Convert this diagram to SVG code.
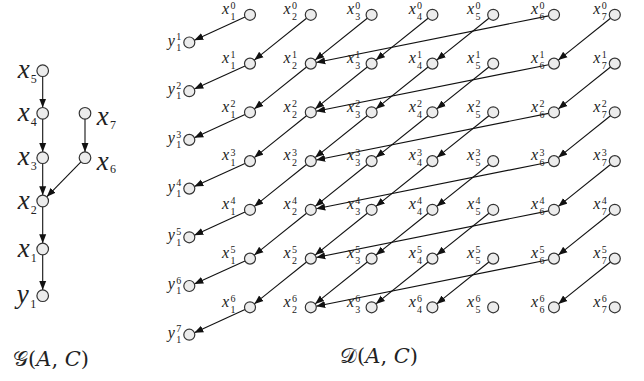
<svg xmlns="http://www.w3.org/2000/svg" width="644" height="381" viewBox="0 0 644 381">
<style>
.n circle{fill:#ececec;stroke:#333;stroke-width:1.2}
.v{font-family:"Liberation Serif",serif;font-style:italic;font-size:16px;fill:#222}
.d{font-style:normal;font-size:10px}
.L{font-family:"Liberation Serif",serif;font-style:italic;font-size:27px;fill:#222}
.Ld{font-style:normal;font-size:12px}
.e path{fill:none;stroke:#111;stroke-width:1.1;marker-end:url(#ah)}
.t{font-family:"DejaVu Serif",serif;font-size:21px;fill:#222}
.t tspan{font-style:italic}
</style>
<defs>
<marker id="ah" markerUnits="userSpaceOnUse" markerWidth="10" markerHeight="8" refX="9" refY="4" orient="auto"><path d="M0,0.5 L9,4 L0,7.5 z" fill="#111"/></marker>
</defs>
<rect width="644" height="381" fill="#fff"/>
<g class="e" id="connectors">
<path d="M42.7 76.5V107.5"/>
<path d="M42.7 119.1V151.9"/>
<path d="M42.7 163.5V195.2"/>
<path d="M42.7 206.8V243.2"/>
<path d="M42.7 254.8V289.9"/>
<path d="M85 119.1V151.9"/>
<path d="M80.95 161.85L46.75 196.85"/>
<path d="M250 14.8m-5 2.28l-50.7 23.1"/>
<path d="M310.8 14.8m-4.29 3.44l-52.22 41.87"/>
<path d="M371.6 14.8m-4.29 3.44l-52.22 41.87"/>
<path d="M432.4 14.8m-4.29 3.44l-52.22 41.87"/>
<path d="M493.2 14.8m-4.29 3.44l-52.22 41.87"/>
<path d="M554 14.8m-5.39 1.08l-232.4 46.6"/>
<path d="M614.8 14.8m-4.29 3.44l-52.22 41.87"/>
<path d="M250 63.6m-5 2.28l-50.7 23.1"/>
<path d="M310.8 63.6m-4.29 3.44l-52.22 41.87"/>
<path d="M371.6 63.6m-4.29 3.44l-52.22 41.87"/>
<path d="M432.4 63.6m-4.29 3.44l-52.22 41.87"/>
<path d="M493.2 63.6m-4.29 3.44l-52.22 41.87"/>
<path d="M554 63.6m-5.39 1.08l-232.4 46.6"/>
<path d="M614.8 63.6m-4.29 3.44l-52.22 41.87"/>
<path d="M250 112.3m-5 2.28l-50.7 23.1"/>
<path d="M310.8 112.3m-4.29 3.44l-52.22 41.87"/>
<path d="M371.6 112.3m-4.29 3.44l-52.22 41.87"/>
<path d="M432.4 112.3m-4.29 3.44l-52.22 41.87"/>
<path d="M493.2 112.3m-4.29 3.44l-52.22 41.87"/>
<path d="M554 112.3m-5.39 1.08l-232.4 46.6"/>
<path d="M614.8 112.3m-4.29 3.44l-52.22 41.87"/>
<path d="M250 161.1m-5 2.28l-50.7 23.1"/>
<path d="M310.8 161.1m-4.29 3.44l-52.22 41.87"/>
<path d="M371.6 161.1m-4.29 3.44l-52.22 41.87"/>
<path d="M432.4 161.1m-4.29 3.44l-52.22 41.87"/>
<path d="M493.2 161.1m-4.29 3.44l-52.22 41.87"/>
<path d="M554 161.1m-5.39 1.08l-232.4 46.6"/>
<path d="M614.8 161.1m-4.29 3.44l-52.22 41.87"/>
<path d="M250 209.8m-5 2.28l-50.7 23.1"/>
<path d="M310.8 209.8m-4.29 3.44l-52.22 41.87"/>
<path d="M371.6 209.8m-4.29 3.44l-52.22 41.87"/>
<path d="M432.4 209.8m-4.29 3.44l-52.22 41.87"/>
<path d="M493.2 209.8m-4.29 3.44l-52.22 41.87"/>
<path d="M554 209.8m-5.39 1.08l-232.4 46.6"/>
<path d="M614.8 209.8m-4.29 3.44l-52.22 41.87"/>
<path d="M250 258.6m-5 2.28l-50.7 23.1"/>
<path d="M310.8 258.6m-4.29 3.44l-52.22 41.87"/>
<path d="M371.6 258.6m-4.29 3.44l-52.22 41.87"/>
<path d="M432.4 258.6m-4.29 3.44l-52.22 41.87"/>
<path d="M493.2 258.6m-4.29 3.44l-52.22 41.87"/>
<path d="M554 258.6m-5.39 1.08l-232.4 46.6"/>
<path d="M614.8 258.6m-4.29 3.44l-52.22 41.87"/>
<path d="M250 307.3m-5 2.28l-50.7 23.1"/>
</g>
<g id="G-nodes">
<g id="g_x5" class="n" transform="translate(42.7,70.7)"><circle r="5.8"/><text class="L" x="-25" y="7.6">x<tspan class="Ld" x="-12" y="12.6">5</tspan></text></g>
<g id="g_x4" class="n" transform="translate(42.7,113.3)"><circle r="5.8"/><text class="L" x="-25" y="7.6">x<tspan class="Ld" x="-12" y="12.6">4</tspan></text></g>
<g id="g_x3" class="n" transform="translate(42.7,157.7)"><circle r="5.8"/><text class="L" x="-25" y="7.6">x<tspan class="Ld" x="-12" y="12.6">3</tspan></text></g>
<g id="g_x2" class="n" transform="translate(42.7,201)"><circle r="5.8"/><text class="L" x="-25" y="7.6">x<tspan class="Ld" x="-12" y="12.6">2</tspan></text></g>
<g id="g_x1" class="n" transform="translate(42.7,249)"><circle r="5.8"/><text class="L" x="-25" y="7.6">x<tspan class="Ld" x="-12" y="12.6">1</tspan></text></g>
<g id="g_y1" class="n" transform="translate(42.7,295.7)"><circle r="5.8"/><text class="L" x="-26" y="7">y<tspan class="Ld" x="-12.5" y="12">1</tspan></text></g>
<g id="g_x7" class="n" transform="translate(85,113.3)"><circle r="5.8"/><text class="L" x="11.7" y="12">x<tspan class="Ld" x="25" y="15.5">7</tspan></text></g>
<g id="g_x6" class="n" transform="translate(85,157.7)"><circle r="5.8"/><text class="L" x="11.7" y="12">x<tspan class="Ld" x="25" y="15.5">6</tspan></text></g>
</g>
<g id="D-y-nodes">
<g id="y1_1" class="n" transform="translate(189.3,42.5)"><circle r="5.5"/><text class="v" x="-21.6" y="3">y<tspan class="d" x="-13" y="-2.4">1</tspan><tspan class="d" x="-13" y="8.2">1</tspan></text></g>
<g id="y1_2" class="n" transform="translate(189.3,91.2)"><circle r="5.5"/><text class="v" x="-21.6" y="3">y<tspan class="d" x="-13" y="-2.4">2</tspan><tspan class="d" x="-13" y="8.2">1</tspan></text></g>
<g id="y1_3" class="n" transform="translate(189.3,139.9)"><circle r="5.5"/><text class="v" x="-21.6" y="3">y<tspan class="d" x="-13" y="-2.4">3</tspan><tspan class="d" x="-13" y="8.2">1</tspan></text></g>
<g id="y1_4" class="n" transform="translate(189.3,188.6)"><circle r="5.5"/><text class="v" x="-21.6" y="3">y<tspan class="d" x="-13" y="-2.4">4</tspan><tspan class="d" x="-13" y="8.2">1</tspan></text></g>
<g id="y1_5" class="n" transform="translate(189.3,237.3)"><circle r="5.5"/><text class="v" x="-21.6" y="3">y<tspan class="d" x="-13" y="-2.4">5</tspan><tspan class="d" x="-13" y="8.2">1</tspan></text></g>
<g id="y1_6" class="n" transform="translate(189.3,286)"><circle r="5.5"/><text class="v" x="-21.6" y="3">y<tspan class="d" x="-13" y="-2.4">6</tspan><tspan class="d" x="-13" y="8.2">1</tspan></text></g>
<g id="y1_7" class="n" transform="translate(189.3,334.7)"><circle r="5.5"/><text class="v" x="-21.6" y="3">y<tspan class="d" x="-13" y="-2.4">7</tspan><tspan class="d" x="-13" y="8.2">1</tspan></text></g>
</g>
<g id="D-x-nodes">
<g id="x1_0" class="n" transform="translate(250,14.8)"><circle r="5.5"/><text class="v" x="-28" y="-0.8">x<tspan class="d" x="-19.6" y="-5.5">0</tspan><tspan class="d" x="-19.6" y="5.2">1</tspan></text></g>
<g id="x2_0" class="n" transform="translate(310.8,14.8)"><circle r="5.5"/><text class="v" x="-27.2" y="-0.8">x<tspan class="d" x="-18.8" y="-5.5">0</tspan><tspan class="d" x="-18.8" y="5.2">2</tspan></text></g>
<g id="x3_0" class="n" transform="translate(371.6,14.8)"><circle r="5.5"/><text class="v" x="-24.7" y="-0.8">x<tspan class="d" x="-16.3" y="-5.5">0</tspan><tspan class="d" x="-16.3" y="5.2">3</tspan></text></g>
<g id="x4_0" class="n" transform="translate(432.4,14.8)"><circle r="5.5"/><text class="v" x="-23.7" y="-0.8">x<tspan class="d" x="-15.3" y="-5.5">0</tspan><tspan class="d" x="-15.3" y="5.2">4</tspan></text></g>
<g id="x5_0" class="n" transform="translate(493.2,14.8)"><circle r="5.5"/><text class="v" x="-26.2" y="-0.8">x<tspan class="d" x="-17.8" y="-5.5">0</tspan><tspan class="d" x="-17.8" y="5.2">5</tspan></text></g>
<g id="x6_0" class="n" transform="translate(554,14.8)"><circle r="5.5"/><text class="v" x="-23" y="-0.8">x<tspan class="d" x="-14.6" y="-5.5">0</tspan><tspan class="d" x="-14.6" y="5.2">6</tspan></text></g>
<g id="x7_0" class="n" transform="translate(614.8,14.8)"><circle r="5.5"/><text class="v" x="-21.5" y="-0.8">x<tspan class="d" x="-13.1" y="-5.5">0</tspan><tspan class="d" x="-13.1" y="5.2">7</tspan></text></g>
<g id="x1_1" class="n" transform="translate(250,63.6)"><circle r="5.5"/><text class="v" x="-28" y="-0.8">x<tspan class="d" x="-19.6" y="-5.5">1</tspan><tspan class="d" x="-19.6" y="5.2">1</tspan></text></g>
<g id="x2_1" class="n" transform="translate(310.8,63.6)"><circle r="5.5"/><text class="v" x="-27.2" y="-0.8">x<tspan class="d" x="-18.8" y="-5.5">1</tspan><tspan class="d" x="-18.8" y="5.2">2</tspan></text></g>
<g id="x3_1" class="n" transform="translate(371.6,63.6)"><circle r="5.5"/><text class="v" x="-24.7" y="-0.8">x<tspan class="d" x="-16.3" y="-5.5">1</tspan><tspan class="d" x="-16.3" y="5.2">3</tspan></text></g>
<g id="x4_1" class="n" transform="translate(432.4,63.6)"><circle r="5.5"/><text class="v" x="-23.7" y="-0.8">x<tspan class="d" x="-15.3" y="-5.5">1</tspan><tspan class="d" x="-15.3" y="5.2">4</tspan></text></g>
<g id="x5_1" class="n" transform="translate(493.2,63.6)"><circle r="5.5"/><text class="v" x="-26.2" y="-0.8">x<tspan class="d" x="-17.8" y="-5.5">1</tspan><tspan class="d" x="-17.8" y="5.2">5</tspan></text></g>
<g id="x6_1" class="n" transform="translate(554,63.6)"><circle r="5.5"/><text class="v" x="-23" y="-0.8">x<tspan class="d" x="-14.6" y="-5.5">1</tspan><tspan class="d" x="-14.6" y="5.2">6</tspan></text></g>
<g id="x7_1" class="n" transform="translate(614.8,63.6)"><circle r="5.5"/><text class="v" x="-21.5" y="-0.8">x<tspan class="d" x="-13.1" y="-5.5">1</tspan><tspan class="d" x="-13.1" y="5.2">7</tspan></text></g>
<g id="x1_2" class="n" transform="translate(250,112.3)"><circle r="5.5"/><text class="v" x="-28" y="-0.8">x<tspan class="d" x="-19.6" y="-5.5">2</tspan><tspan class="d" x="-19.6" y="5.2">1</tspan></text></g>
<g id="x2_2" class="n" transform="translate(310.8,112.3)"><circle r="5.5"/><text class="v" x="-27.2" y="-0.8">x<tspan class="d" x="-18.8" y="-5.5">2</tspan><tspan class="d" x="-18.8" y="5.2">2</tspan></text></g>
<g id="x3_2" class="n" transform="translate(371.6,112.3)"><circle r="5.5"/><text class="v" x="-24.7" y="-0.8">x<tspan class="d" x="-16.3" y="-5.5">2</tspan><tspan class="d" x="-16.3" y="5.2">3</tspan></text></g>
<g id="x4_2" class="n" transform="translate(432.4,112.3)"><circle r="5.5"/><text class="v" x="-23.7" y="-0.8">x<tspan class="d" x="-15.3" y="-5.5">2</tspan><tspan class="d" x="-15.3" y="5.2">4</tspan></text></g>
<g id="x5_2" class="n" transform="translate(493.2,112.3)"><circle r="5.5"/><text class="v" x="-26.2" y="-0.8">x<tspan class="d" x="-17.8" y="-5.5">2</tspan><tspan class="d" x="-17.8" y="5.2">5</tspan></text></g>
<g id="x6_2" class="n" transform="translate(554,112.3)"><circle r="5.5"/><text class="v" x="-23" y="-0.8">x<tspan class="d" x="-14.6" y="-5.5">2</tspan><tspan class="d" x="-14.6" y="5.2">6</tspan></text></g>
<g id="x7_2" class="n" transform="translate(614.8,112.3)"><circle r="5.5"/><text class="v" x="-21.5" y="-0.8">x<tspan class="d" x="-13.1" y="-5.5">2</tspan><tspan class="d" x="-13.1" y="5.2">7</tspan></text></g>
<g id="x1_3" class="n" transform="translate(250,161.1)"><circle r="5.5"/><text class="v" x="-28" y="-0.8">x<tspan class="d" x="-19.6" y="-5.5">3</tspan><tspan class="d" x="-19.6" y="5.2">1</tspan></text></g>
<g id="x2_3" class="n" transform="translate(310.8,161.1)"><circle r="5.5"/><text class="v" x="-27.2" y="-0.8">x<tspan class="d" x="-18.8" y="-5.5">3</tspan><tspan class="d" x="-18.8" y="5.2">2</tspan></text></g>
<g id="x3_3" class="n" transform="translate(371.6,161.1)"><circle r="5.5"/><text class="v" x="-24.7" y="-0.8">x<tspan class="d" x="-16.3" y="-5.5">3</tspan><tspan class="d" x="-16.3" y="5.2">3</tspan></text></g>
<g id="x4_3" class="n" transform="translate(432.4,161.1)"><circle r="5.5"/><text class="v" x="-23.7" y="-0.8">x<tspan class="d" x="-15.3" y="-5.5">3</tspan><tspan class="d" x="-15.3" y="5.2">4</tspan></text></g>
<g id="x5_3" class="n" transform="translate(493.2,161.1)"><circle r="5.5"/><text class="v" x="-26.2" y="-0.8">x<tspan class="d" x="-17.8" y="-5.5">3</tspan><tspan class="d" x="-17.8" y="5.2">5</tspan></text></g>
<g id="x6_3" class="n" transform="translate(554,161.1)"><circle r="5.5"/><text class="v" x="-23" y="-0.8">x<tspan class="d" x="-14.6" y="-5.5">3</tspan><tspan class="d" x="-14.6" y="5.2">6</tspan></text></g>
<g id="x7_3" class="n" transform="translate(614.8,161.1)"><circle r="5.5"/><text class="v" x="-21.5" y="-0.8">x<tspan class="d" x="-13.1" y="-5.5">3</tspan><tspan class="d" x="-13.1" y="5.2">7</tspan></text></g>
<g id="x1_4" class="n" transform="translate(250,209.8)"><circle r="5.5"/><text class="v" x="-28" y="-0.8">x<tspan class="d" x="-19.6" y="-5.5">4</tspan><tspan class="d" x="-19.6" y="5.2">1</tspan></text></g>
<g id="x2_4" class="n" transform="translate(310.8,209.8)"><circle r="5.5"/><text class="v" x="-27.2" y="-0.8">x<tspan class="d" x="-18.8" y="-5.5">4</tspan><tspan class="d" x="-18.8" y="5.2">2</tspan></text></g>
<g id="x3_4" class="n" transform="translate(371.6,209.8)"><circle r="5.5"/><text class="v" x="-24.7" y="-0.8">x<tspan class="d" x="-16.3" y="-5.5">4</tspan><tspan class="d" x="-16.3" y="5.2">3</tspan></text></g>
<g id="x4_4" class="n" transform="translate(432.4,209.8)"><circle r="5.5"/><text class="v" x="-23.7" y="-0.8">x<tspan class="d" x="-15.3" y="-5.5">4</tspan><tspan class="d" x="-15.3" y="5.2">4</tspan></text></g>
<g id="x5_4" class="n" transform="translate(493.2,209.8)"><circle r="5.5"/><text class="v" x="-26.2" y="-0.8">x<tspan class="d" x="-17.8" y="-5.5">4</tspan><tspan class="d" x="-17.8" y="5.2">5</tspan></text></g>
<g id="x6_4" class="n" transform="translate(554,209.8)"><circle r="5.5"/><text class="v" x="-23" y="-0.8">x<tspan class="d" x="-14.6" y="-5.5">4</tspan><tspan class="d" x="-14.6" y="5.2">6</tspan></text></g>
<g id="x7_4" class="n" transform="translate(614.8,209.8)"><circle r="5.5"/><text class="v" x="-21.5" y="-0.8">x<tspan class="d" x="-13.1" y="-5.5">4</tspan><tspan class="d" x="-13.1" y="5.2">7</tspan></text></g>
<g id="x1_5" class="n" transform="translate(250,258.6)"><circle r="5.5"/><text class="v" x="-28" y="-0.8">x<tspan class="d" x="-19.6" y="-5.5">5</tspan><tspan class="d" x="-19.6" y="5.2">1</tspan></text></g>
<g id="x2_5" class="n" transform="translate(310.8,258.6)"><circle r="5.5"/><text class="v" x="-27.2" y="-0.8">x<tspan class="d" x="-18.8" y="-5.5">5</tspan><tspan class="d" x="-18.8" y="5.2">2</tspan></text></g>
<g id="x3_5" class="n" transform="translate(371.6,258.6)"><circle r="5.5"/><text class="v" x="-24.7" y="-0.8">x<tspan class="d" x="-16.3" y="-5.5">5</tspan><tspan class="d" x="-16.3" y="5.2">3</tspan></text></g>
<g id="x4_5" class="n" transform="translate(432.4,258.6)"><circle r="5.5"/><text class="v" x="-23.7" y="-0.8">x<tspan class="d" x="-15.3" y="-5.5">5</tspan><tspan class="d" x="-15.3" y="5.2">4</tspan></text></g>
<g id="x5_5" class="n" transform="translate(493.2,258.6)"><circle r="5.5"/><text class="v" x="-26.2" y="-0.8">x<tspan class="d" x="-17.8" y="-5.5">5</tspan><tspan class="d" x="-17.8" y="5.2">5</tspan></text></g>
<g id="x6_5" class="n" transform="translate(554,258.6)"><circle r="5.5"/><text class="v" x="-23" y="-0.8">x<tspan class="d" x="-14.6" y="-5.5">5</tspan><tspan class="d" x="-14.6" y="5.2">6</tspan></text></g>
<g id="x7_5" class="n" transform="translate(614.8,258.6)"><circle r="5.5"/><text class="v" x="-21.5" y="-0.8">x<tspan class="d" x="-13.1" y="-5.5">5</tspan><tspan class="d" x="-13.1" y="5.2">7</tspan></text></g>
<g id="x1_6" class="n" transform="translate(250,307.3)"><circle r="5.5"/><text class="v" x="-28" y="-0.8">x<tspan class="d" x="-19.6" y="-5.5">6</tspan><tspan class="d" x="-19.6" y="5.2">1</tspan></text></g>
<g id="x2_6" class="n" transform="translate(310.8,307.3)"><circle r="5.5"/><text class="v" x="-27.2" y="-0.8">x<tspan class="d" x="-18.8" y="-5.5">6</tspan><tspan class="d" x="-18.8" y="5.2">2</tspan></text></g>
<g id="x3_6" class="n" transform="translate(371.6,307.3)"><circle r="5.5"/><text class="v" x="-24.7" y="-0.8">x<tspan class="d" x="-16.3" y="-5.5">6</tspan><tspan class="d" x="-16.3" y="5.2">3</tspan></text></g>
<g id="x4_6" class="n" transform="translate(432.4,307.3)"><circle r="5.5"/><text class="v" x="-23.7" y="-0.8">x<tspan class="d" x="-15.3" y="-5.5">6</tspan><tspan class="d" x="-15.3" y="5.2">4</tspan></text></g>
<g id="x5_6" class="n" transform="translate(493.2,307.3)"><circle r="5.5"/><text class="v" x="-26.2" y="-0.8">x<tspan class="d" x="-17.8" y="-5.5">6</tspan><tspan class="d" x="-17.8" y="5.2">5</tspan></text></g>
<g id="x6_6" class="n" transform="translate(554,307.3)"><circle r="5.5"/><text class="v" x="-23" y="-0.8">x<tspan class="d" x="-14.6" y="-5.5">6</tspan><tspan class="d" x="-14.6" y="5.2">6</tspan></text></g>
<g id="x7_6" class="n" transform="translate(614.8,307.3)"><circle r="5.5"/><text class="v" x="-21.5" y="-0.8">x<tspan class="d" x="-13.1" y="-5.5">6</tspan><tspan class="d" x="-13.1" y="5.2">7</tspan></text></g>
</g>
<g id="titles">
<text class="t" x="13" y="366">𝒢(<tspan>A</tspan>, <tspan>C</tspan>)</text>
<text class="t" x="340" y="363">𝒟(<tspan>A</tspan>, <tspan>C</tspan>)</text>
</g>
</svg>
